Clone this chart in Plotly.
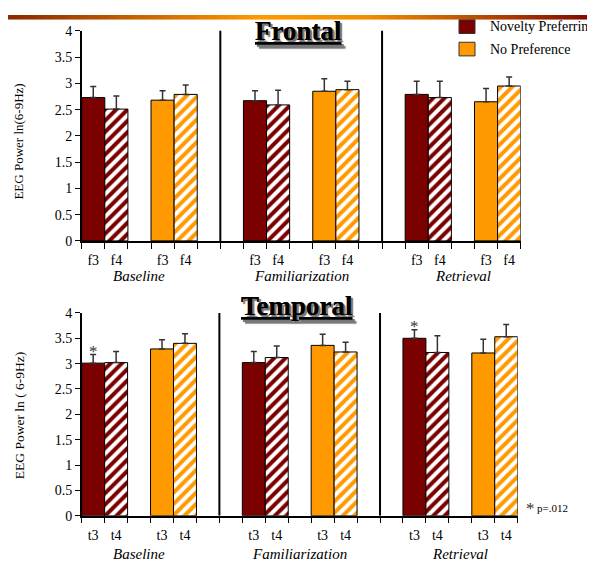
import plotly.graph_objects as go

# ---- data ----
slots_np = [0, 1, 7, 8, 14, 15]        # Novelty Preferring bar slots (solid, hatched alternating)
slots_nop = [3, 4, 10, 11, 17, 18]     # No Preference bar slots
groups = ["Baseline", "Familiarization", "Retrieval"]
group_centers = [2, 9, 16]
series_names = ["Novelty Preferring", "No Preference"]

frontal_np = [2.73, 2.51, 2.67, 2.59, 2.79, 2.73]
frontal_np_err = [0.21, 0.25, 0.19, 0.28, 0.25, 0.31]
frontal_nop = [2.68, 2.79, 2.85, 2.88, 2.65, 2.95]
frontal_nop_err = [0.18, 0.18, 0.24, 0.16, 0.25, 0.17]

temporal_np = [3.01, 3.02, 3.02, 3.12, 3.50, 3.22]
temporal_np_err = [0.17, 0.22, 0.22, 0.23, 0.17, 0.33]
temporal_nop = [3.29, 3.40, 3.36, 3.23, 3.21, 3.53]
temporal_nop_err = [0.18, 0.19, 0.22, 0.19, 0.27, 0.24]

frontal_ticks = ["f3", "f4"] * 6
temporal_ticks = ["t3", "t4"] * 6
sig_slots = [0, 14]   # temporal bars marked with *

MAROON = "#7b0000"
ORANGE = "#ff9900"
SERIF = "Liberation Serif"

W, H = 595, 569
OFF = 8  # page body margin offset
def px_x(p): return (p - OFF) / W
def px_y(p): return 1 - (p - OFF) / H

fig = go.Figure()

def add_panel(xa, ya, np_vals, np_err, nop_vals, nop_err):
    for vals, errs, slots, color, name in [
        (np_vals, np_err, slots_np, MAROON, series_names[0]),
        (nop_vals, nop_err, slots_nop, ORANGE, series_names[1]),
    ]:
        solid_x = slots[0::2]; hatch_x = slots[1::2]
        err_kw = lambda e: dict(type="data", array=e, arrayminus=[0] * len(e), symmetric=False,
                                color="#333333", thickness=1.5, width=3)
        fig.add_trace(go.Bar(
            x=solid_x, y=vals[0::2], width=1, xaxis=xa, yaxis=ya,
            marker=dict(color=color, line=dict(color="black", width=1)),
            error_y=err_kw(errs[0::2]), name=name, showlegend=False,
        ))
        fig.add_trace(go.Bar(
            x=hatch_x, y=vals[1::2], width=1, xaxis=xa, yaxis=ya,
            marker=dict(color="white", line=dict(color="black", width=1),
                        pattern=dict(shape="/", fgcolor=color, bgcolor="white", size=8,
                                     solidity=0.5, fgopacity=1)),
            error_y=err_kw(errs[1::2]), name=name, showlegend=False,
        ))

add_panel("x", "y", frontal_np, frontal_np_err, frontal_nop, frontal_nop_err)
add_panel("x2", "y2", temporal_np, temporal_np_err, temporal_nop, temporal_nop_err)

# top gradient strip
fig.add_trace(go.Scatter(
    x=[0, 1, 1, 0, 0], y=[0, 0, 1, 1, 0], xaxis="x3", yaxis="y3", mode="lines",
    line=dict(width=0), fill="toself", showlegend=False, hoverinfo="skip",
    fillgradient=dict(type="horizontal",
                      colorscale=[[0, "#8a2800"], [0.42, "#ff9900"], [0.6, "#f09000"], [1, "#7b0000"]]),
))

all_slots = sorted(slots_np + slots_nop)
xcommon = dict(range=[-0.5, 18.5], showline=True, linecolor="black", linewidth=1.5,
               showgrid=False, zeroline=False, ticks="", ticklabelstandoff=6,
               tickfont=dict(family=SERIF, size=14, color="black"),
               tickvals=all_slots,
               minor=dict(tick0=-0.5, dtick=1, ticks="outside", ticklen=6, tickcolor="black", tickwidth=1))
ycommon = dict(range=[0, 4], dtick=0.5, showline=True, linecolor="black", linewidth=1.5,
               showgrid=False, zeroline=False, ticks="outside", ticklen=5, tickcolor="black",
               tickfont=dict(family=SERIF, size=14, color="black"))

fig.update_layout(
    width=W, height=H, margin=dict(l=0, r=0, t=0, b=0),
    paper_bgcolor="white", plot_bgcolor="white", barmode="overlay", showlegend=False,
    xaxis=dict(**xcommon, domain=[px_x(81.7), px_x(520.7)], anchor="y", ticktext=frontal_ticks),
    yaxis=dict(**ycommon, domain=[px_y(240), px_y(24.3)], anchor="x"),
    xaxis2=dict(**xcommon, domain=[px_x(81.7), px_x(517.7)], anchor="y2", ticktext=temporal_ticks),
    yaxis2=dict(**ycommon, domain=[px_y(522.3), px_y(314)], anchor="x2"),
    xaxis3=dict(domain=[0, 1], range=[0, 1], visible=False, anchor="y3"),
    yaxis3=dict(domain=[px_y(13), 1], range=[0, 1], visible=False, anchor="x3"),
)

# divider lines
for xa, ya in [("x", "y"), ("x2", "y2")]:
    for xv in [5.5, 12.5]:
        fig.add_shape(type="line", xref=xa, yref=ya, x0=xv, x1=xv, y0=0, y1=4.02,
                      line=dict(color="black", width=2))

# legend (drawn manually to match the reference placement)
for name, color, yc in [(series_names[0], MAROON, 20), (series_names[1], ORANGE, 43)]:
    fig.add_shape(type="rect", xref="paper", yref="paper",
                  x0=px_x(459), x1=px_x(475), y0=px_y(yc + 7), y1=px_y(yc - 7),
                  fillcolor=color, line=dict(color="#333333", width=1))

ann = []
for name, yc in [(series_names[0], 20), (series_names[1], 43)]:
    ann.append(dict(x=px_x(488), y=px_y(yc), xref="paper", yref="paper", text=name,
                    showarrow=False, font=dict(family=SERIF, size=14, color="black"),
                    xanchor="left", yanchor="middle"))
# group labels
for xa, ypx in [("x", 276), ("x2", 561.5)]:
    for g, c in zip(groups, group_centers):
        ann.append(dict(x=c, xref=xa, y=px_y(ypx), yref="paper", text=g, showarrow=False,
                        font=dict(family=SERIF, size=15, style="italic", color="black"),
                        xanchor="center", yanchor="middle"))
# panel titles
title_font = dict(family=SERIF, size=27, weight="bold", color="black",
                  lineposition="under", shadow="2px 2px 1px #777")
ann.append(dict(x=px_x(298), y=px_y(24), xref="paper", yref="paper", text="Frontal",
                showarrow=False, font=title_font, xanchor="center", yanchor="middle"))
ann.append(dict(x=px_x(297), y=px_y(307), xref="paper", yref="paper", text="Temporal",
                showarrow=False, font=title_font, xanchor="center", yanchor="middle"))
# y axis titles
ann.append(dict(x=px_x(19), y=px_y(138), xref="paper", yref="paper", text="EEG Power ln(6-9Hz)",
                textangle=-90, showarrow=False, font=dict(family=SERIF, size=13, color="black"),
                xanchor="center", yanchor="middle"))
ann.append(dict(x=px_x(19), y=px_y(420), xref="paper", yref="paper", text="EEG Power ln ( 6-9Hz)",
                textangle=-90, showarrow=False, font=dict(family=SERIF, size=13.5, color="black"),
                xanchor="center", yanchor="middle"))
# significance stars
for s in sig_slots:
    if s in slots_np:
        i = slots_np.index(s)
        top = temporal_np[i] + temporal_np_err[i]
        ann.append(dict(x=s, y=top, xref="x2", yref="y2", text="*", showarrow=False,
                        font=dict(family=SERIF, size=17, color="#333333"),
                        xanchor="center", yanchor="bottom", yshift=-8))
ann.append(dict(x=px_x(524), y=px_y(512), xref="paper", yref="paper", text="*",
                showarrow=False, font=dict(family=SERIF, size=17, color="#333333"),
                xanchor="left", yanchor="middle", yshift=-3))
ann.append(dict(x=px_x(535), y=px_y(514), xref="paper", yref="paper", text="p=.012",
                showarrow=False, font=dict(family=SERIF, size=11, color="black"),
                xanchor="left", yanchor="middle"))
fig.update_layout(annotations=ann)

fig.write_html("out.html")
